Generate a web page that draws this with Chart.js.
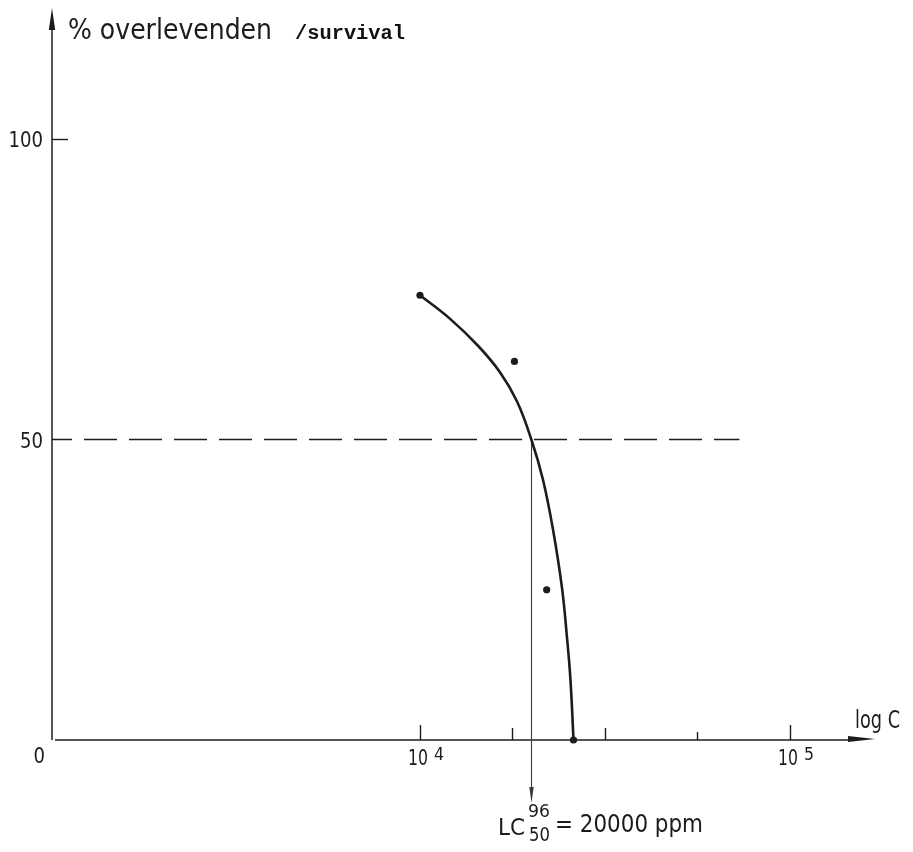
<!DOCTYPE html>
<html>
<head>
<meta charset="utf-8">
<script src="https://cdn.jsdelivr.net/npm/chart.js@4/dist/chart.umd.min.js"></script>
<style>
  html, body { margin: 0; background: #fff; }
  canvas { display: block; }
</style>
</head>
<body>
<canvas id="lcChart" width="913" height="852"></canvas>
<script>
// measured survival (%) per concentration (ppm)
var concentrations = [10000, 18000, 22000, 26000];
var survival = [74, 63, 25, 0];

// hand-drawn fit through the measurements
var fitConc = [10000, 12000, 14350, 16450, 18270, 20000, 21500, 22900, 24200, 24960, 25510, 26000];
var fitSurvival = [74, 70.2, 65.6, 61.2, 56.4, 50, 43.3, 34.9, 25.3, 17.1, 10, 0];

var lc50 = 20000;
var lc50Level = 50;
var referenceEnd = 73000;

// axis ticks: exponents of 10 on x, percentages on y
var xTickExponents = [4, 4.25, 4.5, 4.75, 5];
var xLabelExponents = [4, 5];
var yLabels = [0, 50, 100];

var ink = '#1c1c1c';
var sans = '"DejaVu Sans", sans-serif';

function toPoints(xs, ys) {
  return xs.map(function (v, i) { return { x: v, y: ys[i] }; });
}

// text squeezed horizontally to a given width, like stencil lettering
function fitText(ctx, s, x, base, size, width, family, weight) {
  ctx.save();
  ctx.font = (weight || 'normal') + ' ' + size + 'px ' + (family || sans);
  ctx.textBaseline = 'alphabetic';
  ctx.textAlign = 'left';
  var w = ctx.measureText(s).width;
  var sx = width ? width / w : 1;
  ctx.translate(x, base);
  ctx.scale(sx, 1);
  ctx.fillText(s, 0, 0);
  ctx.restore();
}

function arrowHead(ctx, tipX, tipY, dx, dy, len, half) {
  // dx, dy: unit direction the arrow points to
  var bx = tipX - dx * len, by = tipY - dy * len;
  ctx.beginPath();
  ctx.moveTo(tipX, tipY);
  ctx.lineTo(bx - dy * half, by + dx * half);
  ctx.lineTo(bx + dy * half, by - dx * half);
  ctx.closePath();
  ctx.fill();
}

var inkPlugin = {
  id: 'ink',
  beforeDatasetsDraw: function (chart) {
    var ctx = chart.ctx;
    var xs = chart.scales.x, ys = chart.scales.y;
    var area = chart.chartArea;
    var x0 = area.left, y0 = ys.getPixelForValue(0);

    ctx.save();
    ctx.strokeStyle = ink;
    ctx.fillStyle = ink;
    ctx.lineCap = 'butt';

    // y axis with arrow
    ctx.lineWidth = 1.5;
    ctx.beginPath();
    ctx.moveTo(x0, y0);
    ctx.lineTo(x0, area.top + 18);
    ctx.stroke();
    arrowHead(ctx, x0, area.top, 0, -1, 22, 3.2);

    // x axis with arrow
    ctx.beginPath();
    ctx.moveTo(x0 + 3, y0);
    ctx.lineTo(area.right - 24, y0);
    ctx.stroke();
    arrowHead(ctx, area.right, y0 - 1, 1, 0, 27, 3);

    // x ticks, drawn upward
    ctx.lineWidth = 1.4;
    xTickExponents.forEach(function (e) {
      var px = Math.round(xs.getPixelForValue(Math.pow(10, e))) + 0.5;
      var len = (e % 1 === 0) ? 15 : (e === 4.75 ? 8 : 12);
      ctx.beginPath();
      ctx.moveTo(px, y0);
      ctx.lineTo(px, y0 - len);
      ctx.stroke();
    });

    // 100% tick
    var p100 = Math.round(ys.getPixelForValue(100)) + 0.5;
    ctx.beginPath();
    ctx.moveTo(x0, p100);
    ctx.lineTo(x0 + 16, p100);
    ctx.stroke();

    // dashed 50% line
    var p50 = ys.getPixelForValue(lc50Level);
    ctx.lineWidth = 1.5;
    ctx.setLineDash([33, 12]);
    ctx.lineDashOffset = 13;
    ctx.beginPath();
    ctx.moveTo(x0, p50);
    ctx.lineTo(xs.getPixelForValue(referenceEnd), p50);
    ctx.stroke();
    ctx.setLineDash([]);

    // drop line from the 50% crossing to the LC50 label
    var pLc = Math.round(xs.getPixelForValue(lc50)) + 0.5;
    ctx.strokeStyle = '#3a3a3a';
    ctx.fillStyle = '#3a3a3a';
    ctx.lineWidth = 1.1;
    ctx.beginPath();
    ctx.moveTo(pLc, p50);
    ctx.lineTo(pLc, 790);
    ctx.stroke();
    arrowHead(ctx, pLc, 803, 0, 1, 16, 2.2);

    ctx.restore();
  },
  afterDatasetsDraw: function (chart) {
    var ctx = chart.ctx;
    var xs = chart.scales.x, ys = chart.scales.y;
    ctx.save();
    ctx.fillStyle = ink;

    // axis titles
    fitText(ctx, '% overlevenden', 68, 39, 29, 204);
    ctx.fillStyle = '#111';
    fitText(ctx, '/survival', 295, 39, 20, 110, '"Liberation Mono", monospace', 'bold');
    ctx.fillStyle = ink;
    fitText(ctx, 'log C', 855, 728, 24, 45);

    // y labels
    yLabels.forEach(function (v) {
      var s = String(v);
      var py = ys.getPixelForValue(v);
      var w = s.length * 11.5;
      var right = v === 0 ? 45 : 43;
      var base = v === 0 ? py + 23 : py + 8;
      fitText(ctx, s, right - w, base, 21, w);
    });

    // decade labels on the x axis
    xLabelExponents.forEach(function (e) {
      var px = xs.getPixelForValue(Math.pow(10, e));
      fitText(ctx, '10', px - 12, 765, 21, 20);
      fitText(ctx, String(e), px + 14, 760, 17, 10);
    });

    // LC50 annotation
    fitText(ctx, 'LC', 498, 835, 23, 27);
    fitText(ctx, '96', 528, 817, 18, 22);
    fitText(ctx, '50', 529, 841, 19, 21);
    fitText(ctx, '= ' + lc50 + ' ppm', 555, 832, 25, 148);

    ctx.restore();
  }
};

var chart = new Chart(document.getElementById('lcChart').getContext('2d'), {
  type: 'scatter',
  data: {
    datasets: [{
      label: 'fit',
      data: toPoints(fitConc, fitSurvival),
      showLine: true,
      borderColor: ink,
      borderWidth: 2.6,
      pointRadius: 0,
      tension: 0.4,
      clip: false
    }, {
      label: 'survival',
      data: toPoints(concentrations, survival),
      pointRadius: 3.6,
      pointBackgroundColor: ink,
      pointBorderWidth: 0,
      clip: false
    }]
  },
  options: {
    responsive: false,
    animation: false,
    layout: { padding: { left: 52, right: 38, top: 8, bottom: 112 }, autoPadding: false },
    plugins: { legend: { display: false }, tooltip: { enabled: false } },
    scales: {
      x: { type: 'logarithmic', min: 1013, max: 169700, bounds: 'data', display: false },
      y: { type: 'linear', min: 0, max: 121.8, display: false }
    }
  },
  plugins: [inkPlugin]
});
</script>
</body>
</html>
